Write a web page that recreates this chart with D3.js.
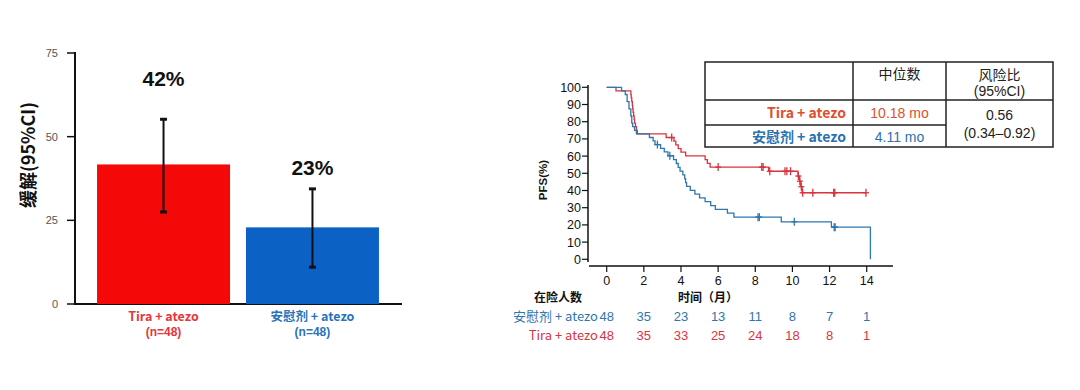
<!DOCTYPE html>
<html>
<head>
<meta charset="utf-8">
<script src="https://cdn.jsdelivr.net/npm/d3@7"></script>
<style>
  body { margin: 0; background: #fff; }
  svg text { font-family: "Liberation Sans", Arial, "Noto Sans CJK SC", sans-serif; }
</style>
</head>
<body>
<div id="chart"></div>
<script>
// ---- bar chart data ----
const barCats = ["Tira +  atezo", "安慰剂 +  atezo"];
const barValues = [41.7, 22.9];
const ciLow = [27.5, 11.0];
const ciHigh = [55.2, 34.4];
const barLabels = ["42%", "23%"];
const labelAt = [67.2, 40.6];
const barN = ["(n=48)", "(n=48)"];
const barTicks = [0, 25, 50, 75];

// ---- KM data (step points) ----
const redT = [0, 0.5, 1.3, 1.32, 1.35, 1.38, 1.4, 1.42, 1.45, 1.48, 1.5, 1.55, 1.6, 1.65, 3.2, 3.62, 3.72, 3.85, 4.0, 4.25, 5.3, 5.42, 5.57, 8.72, 10.3, 10.38, 10.45, 10.52, 13.96];
const redS = [100, 97.9, 95.8, 93.8, 91.7, 89.6, 87.5, 85.4, 83.3, 81.3, 79.2, 77.1, 75.0, 72.9, 70.8, 68.7, 66.5, 64.4, 62.3, 60.1, 58.0, 55.8, 53.6, 51.2, 48.4, 45.4, 42.2, 38.7, 38.7];
const redCensT = [3.5, 6.0, 8.35, 8.42, 8.78, 9.6, 9.7, 9.9, 10.32, 10.4, 10.48, 10.55, 11.1, 12.22, 12.28, 13.96];
const redCensS = [70.8, 53.6, 53.6, 53.6, 51.2, 51.2, 51.2, 51.2, 48.4, 45.4, 42.2, 38.7, 38.7, 38.7, 38.7, 38.7];

const blueT = [0, 0.8, 1.0, 1.1, 1.2, 1.3, 1.35, 1.4, 1.5, 1.6, 2.3, 2.5, 2.6, 2.9, 3.1, 3.3, 3.6, 3.75, 3.85, 3.95, 4.1, 4.2, 4.25, 4.3, 4.5, 4.75, 5.0, 5.3, 5.6, 5.85, 6.5, 6.85, 9.4, 12.1, 14.2];
const blueS = [100, 97.9, 95.8, 91.7, 87.5, 83.3, 79.2, 77.1, 75.0, 72.9, 70.8, 68.8, 66.7, 64.5, 62.4, 60.2, 58.0, 55.7, 53.5, 51.3, 49.1, 46.8, 44.6, 42.4, 40.1, 37.9, 35.7, 33.5, 31.2, 29.0, 26.8, 24.5, 21.8, 18.7, 0];
const blueCensT = [2.73, 3.4, 8.15, 8.22, 10.1, 12.25, 12.3];
const blueCensS = [66.7, 60.2, 24.5, 24.5, 21.8, 18.7, 18.7];

const kmXTicks = [0, 2, 4, 6, 8, 10, 12, 14];
const kmYTicks = [0, 10, 20, 30, 40, 50, 60, 70, 80, 90, 100];
const riskBlue = [48, 35, 23, 13, 11, 8, 7, 1];
const riskRed = [48, 35, 33, 25, 24, 18, 8, 1];
const riskLabels = ["安慰剂 + atezo", "Tira + atezo"];

// ---- table text ----
const tblHead = ["", "中位数", "风险比"];
const tblArms = ["Tira + atezo", "安慰剂 + atezo"];
const tblMedians = ["10.18 mo", "4.11 mo"];
const tblHR = ["0.56", "(0.34–0.92)"];

const width = 1080, height = 390;
const RED = "#d8343f", BLUE = "#2f76ad";
const cjk = '"Noto Sans CJK SC", "Liberation Sans", sans-serif';

let svg = d3.select("#chart").append("svg")
  .attr("width", width).attr("height", height);

// ================= bar chart =================
let by = d3.scaleLinear().domain([0, 75]).range([304, 53]);
let bx = d3.scaleBand().domain(barCats).range([75, 401])
  .paddingInner(0.107).paddingOuter(0.148);
const barColors = ["#f40808", "#0b62c4"];
const catColors = ["#e8343a", "#2a73b8"];

let bar = svg.append("g");
bar.append("line").attr("x1", 75).attr("x2", 75).attr("y1", by(75) - 1).attr("y2", by(0))
  .attr("stroke", "#111").attr("stroke-width", 2);
bar.append("line").attr("x1", 74).attr("x2", 402).attr("y1", by(0)).attr("y2", by(0))
  .attr("stroke", "#111").attr("stroke-width", 2);
bar.selectAll(".bt").data(barTicks).enter().append("line")
  .attr("x1", 67).attr("x2", 75).attr("y1", d => by(d)).attr("y2", d => by(d))
  .attr("stroke", "#111").attr("stroke-width", 1.5);
bar.selectAll(".btl").data(barTicks).enter().append("text")
  .attr("x", 58).attr("y", d => by(d) + 4).attr("text-anchor", "end")
  .attr("font-size", 11).attr("fill", "#555").text(d => d);

bar.selectAll(".bar").data(barCats).enter().append("rect")
  .attr("x", d => bx(d)).attr("width", bx.bandwidth())
  .attr("y", (d, i) => by(barValues[i])).attr("height", (d, i) => by(0) - by(barValues[i]))
  .attr("fill", (d, i) => barColors[i]);

barCats.forEach((c, i) => {
  let cx = bx(c) + bx.bandwidth() / 2;
  bar.append("line").attr("x1", cx).attr("x2", cx).attr("y1", by(ciHigh[i])).attr("y2", by(ciLow[i]))
    .attr("stroke", "#111").attr("stroke-width", 2);
  [ciHigh[i], ciLow[i]].forEach(v => {
    bar.append("line").attr("x1", cx - 3.5).attr("x2", cx + 3.5).attr("y1", by(v)).attr("y2", by(v))
      .attr("stroke", "#111").attr("stroke-width", 3);
  });
  bar.append("text").attr("x", cx).attr("y", by(labelAt[i]) + 7).attr("text-anchor", "middle")
    .attr("font-size", 21).attr("font-weight", "bold").attr("fill", "#111").text(barLabels[i]);
  bar.append("text").attr("x", cx).attr("y", 321).attr("text-anchor", "middle")
    .attr("font-size", 12.5).attr("font-weight", "bold").attr("fill", catColors[i])
    .style("font-family", cjk).text(c);
  bar.append("text").attr("x", cx).attr("y", 336).attr("text-anchor", "middle")
    .attr("font-size", 12).attr("font-weight", "bold").attr("fill", catColors[i]).text(barN[i]);
});

bar.append("text").attr("transform", "translate(35,155) rotate(-90)")
  .attr("text-anchor", "middle").attr("font-size", 18).attr("font-weight", "bold")
  .style("font-family", cjk).attr("fill", "#111").text("缓解(95%CI)");

// ================= KM chart =================
let kx = d3.scaleLinear().domain([0, 14]).range([606.7, 866.7]);
let ky = d3.scaleLinear().domain([0, 100]).range([259.3, 87.3]);
let km = svg.append("g");

km.append("line").attr("x1", 588).attr("x2", 588).attr("y1", 85).attr("y2", 262)
  .attr("stroke", "#111").attr("stroke-width", 1.5);
km.append("line").attr("x1", 589).attr("x2", 893).attr("y1", 266).attr("y2", 266)
  .attr("stroke", "#111").attr("stroke-width", 1.5);
km.selectAll(".yt").data(kmYTicks).enter().append("line")
  .attr("x1", 582).attr("x2", 588).attr("y1", d => ky(d)).attr("y2", d => ky(d))
  .attr("stroke", "#111").attr("stroke-width", 1.2);
km.selectAll(".ytl").data(kmYTicks).enter().append("text")
  .attr("x", 581).attr("y", d => ky(d) + 4.5).attr("text-anchor", "end")
  .attr("font-size", 12.5).attr("fill", "#111").text(d => d);
km.selectAll(".xt").data(kmXTicks).enter().append("line")
  .attr("x1", d => kx(d)).attr("x2", d => kx(d)).attr("y1", 266).attr("y2", 272)
  .attr("stroke", "#111").attr("stroke-width", 1.2);
km.selectAll(".xtl").data(kmXTicks).enter().append("text")
  .attr("x", d => kx(d)).attr("y", 285).attr("text-anchor", "middle")
  .attr("font-size", 12.5).attr("fill", "#111").text(d => d);

km.append("text").attr("transform", "translate(547,180) rotate(-90)")
  .attr("text-anchor", "middle").attr("font-size", 11.5).attr("font-weight", "bold")
  .attr("fill", "#111").text("PFS(%)");
km.append("text").attr("x", 708).attr("y", 302).attr("text-anchor", "middle")
  .attr("font-size", 12).attr("font-weight", "bold").style("font-family", cjk)
  .attr("fill", "#111").text("时间（月）");

let line = d3.line().x(d => kx(d[0])).y(d => ky(d[1])).curve(d3.curveStepAfter);
function drawCurve(ts, ss, cts, css, col) {
  km.append("path").attr("d", line(ts.map((t, i) => [t, ss[i]])))
    .attr("fill", "none").attr("stroke", col).attr("stroke-width", 1.3);
  cts.forEach((t, i) => {
    let x = kx(t), y = ky(css[i]);
    km.append("line").attr("x1", x).attr("x2", x).attr("y1", y - 4).attr("y2", y + 4)
      .attr("stroke", col).attr("stroke-width", 1.3);
    km.append("line").attr("x1", x - 3).attr("x2", x + 3).attr("y1", y).attr("y2", y)
      .attr("stroke", col).attr("stroke-width", 1.3);
  });
}
drawCurve(redT, redS, redCensT, redCensS, RED);
drawCurve(blueT, blueS, blueCensT, blueCensS, BLUE);

// risk table
km.append("text").attr("x", 558).attr("y", 302).attr("text-anchor", "middle")
  .attr("font-size", 12).attr("font-weight", "bold").style("font-family", cjk)
  .attr("fill", "#111").text("在险人数");
[riskBlue, riskRed].forEach((row, r) => {
  let y = 321 + r * 18.5, col = r === 0 ? BLUE : RED;
  km.append("text").attr("x", 598).attr("y", y).attr("text-anchor", "end")
    .attr("font-size", 13).style("font-family", cjk).attr("fill", col).text(riskLabels[r]);
  km.selectAll(".rk" + r).data(row).enter().append("text")
    .attr("x", (d, i) => kx(kmXTicks[i])).attr("y", y).attr("text-anchor", "middle")
    .attr("font-size", 13).attr("fill", col).text(d => d);
});

// summary table
let tb = svg.append("g");
const tL = 705, tR = 1053, tT = 62, tB = 147, c1 = 853, c2 = 946, r1 = 100, r2 = 125;
tb.append("rect").attr("x", tL).attr("y", tT).attr("width", tR - tL).attr("height", tB - tT)
  .attr("fill", "#fff").attr("stroke", "#222").attr("stroke-width", 1.5);
[[c1, tT, c1, tB], [c2, tT, c2, tB], [tL, r1, tR, r1], [tL, r2, c2, r2]].forEach(s => {
  tb.append("line").attr("x1", s[0]).attr("y1", s[1]).attr("x2", s[2]).attr("y2", s[3])
    .attr("stroke", "#222").attr("stroke-width", 1.5);
});
tb.append("text").attr("x", (c1 + c2) / 2).attr("y", 79).attr("text-anchor", "middle")
  .attr("font-size", 14).style("font-family", cjk).attr("fill", "#222").text(tblHead[1]);
tb.append("text").attr("x", (c2 + tR) / 2).attr("y", 80).attr("text-anchor", "middle")
  .attr("font-size", 14).style("font-family", cjk).attr("fill", "#222").text(tblHead[2]);
tb.append("text").attr("x", (c2 + tR) / 2).attr("y", 96).attr("text-anchor", "middle")
  .attr("font-size", 14).attr("fill", "#222").text("(95%CI)");
const armCols = ["#e0502e", "#2a72b0"];
tblArms.forEach((a, i) => {
  let y = i === 0 ? 118 : 142;
  tb.append("text").attr("x", 846).attr("y", y).attr("text-anchor", "end")
    .attr("font-size", 14).attr("font-weight", "bold").style("font-family", cjk)
    .attr("fill", armCols[i]).text(a);
  tb.append("text").attr("x", (c1 + c2) / 2).attr("y", y).attr("text-anchor", "middle")
    .attr("font-size", 14).attr("fill", armCols[i]).text(tblMedians[i]);
});
tb.append("text").attr("x", (c2 + tR) / 2).attr("y", 120).attr("text-anchor", "middle")
  .attr("font-size", 14).attr("fill", "#222").text(tblHR[0]);
tb.append("text").attr("x", (c2 + tR) / 2).attr("y", 138).attr("text-anchor", "middle")
  .attr("font-size", 14).attr("fill", "#222").text(tblHR[1]);
</script>
</body>
</html>
